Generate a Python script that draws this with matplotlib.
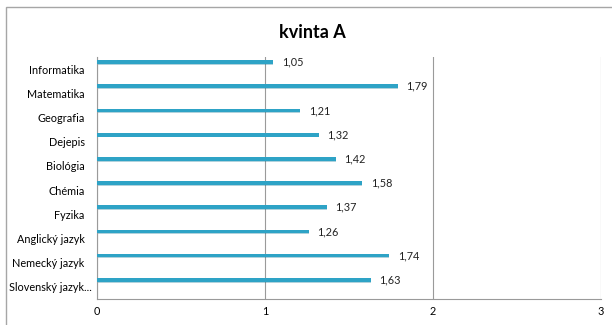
import matplotlib.pyplot as plt
import matplotlib.transforms as mtransforms
import numpy as np
from matplotlib.patches import Rectangle

# data (top to bottom as in the chart)
predmety = ['Informatika', 'Matematika', 'Geografia', 'Dejepis', 'Biológia',
            'Chémia', 'Fyzika', 'Anglický jazyk', 'Nemecký jazyk', 'Slovenský jazyk...']
hodnoty = [1.05, 1.79, 1.21, 1.32, 1.42, 1.58, 1.37, 1.26, 1.74, 1.63]
x_ticks = [0, 1, 2, 3]

plt.rcParams['font.family'] = ['Lato', 'DejaVu Sans']

fig = plt.figure(figsize=(6.12, 3.25), dpi=100)
ax = fig.add_axes([0.1585, 0.08, 0.8235, 0.7446])

# outer chart border (right and bottom edges fall outside the picture)
fig.patches.append(Rectangle((6 / 612, -0.05), 1.1, 1 - 7 / 325 + 0.05,
                             transform=fig.transFigure, fill=False,
                             edgecolor='#a6a6a6', linewidth=1.0))

pos = np.arange(len(predmety))
offset = -0.29
# shadow + bar
ax.barh(pos + offset + 0.04, hodnoty, height=0.15, color='#1d7f9c', alpha=0.35, zorder=2)
ax.barh(pos + offset, hodnoty, height=0.15, color='#2ea3c6', zorder=3)

for p, v in zip(pos, hodnoty):
    ax.text(v + 0.05, p + offset, f'{v:.2f}'.replace('.', ','), va='center', ha='left',
            fontsize=7.8, color='#222222')

ax.set_xlim(0, 3)
ax.set_ylim(len(predmety) - 0.5, -0.5)
ax.set_yticks(pos)
ax.set_yticklabels(predmety, fontsize=7.8)
ax.set_xticks(x_ticks)
ax.set_xticklabels([str(t) for t in x_ticks], fontsize=7.8)
ax.tick_params(axis='y', length=0, pad=9)
ax.tick_params(axis='x', length=0, pad=5)

# the truncated label sits closer to the axis
posun = mtransforms.ScaledTranslation(7 / 100, 0, fig.dpi_scale_trans)
lbl = ax.get_yticklabels()[-1]
lbl.set_transform(lbl.get_transform() + posun)

ax.grid(axis='x', color='#9a9a9a', linewidth=0.8, zorder=0)
ax.set_axisbelow(True)
for s in ['top', 'right']:
    ax.spines[s].set_visible(False)
for s in ['left', 'bottom']:
    ax.spines[s].set_color('#9a9a9a')
    ax.spines[s].set_linewidth(0.8)

fig.text(312 / 612, 1 - 32 / 325, 'kvinta A', ha='center', va='center',
         fontsize=13, fontweight='bold')

plt.savefig('out.png', dpi=100)
